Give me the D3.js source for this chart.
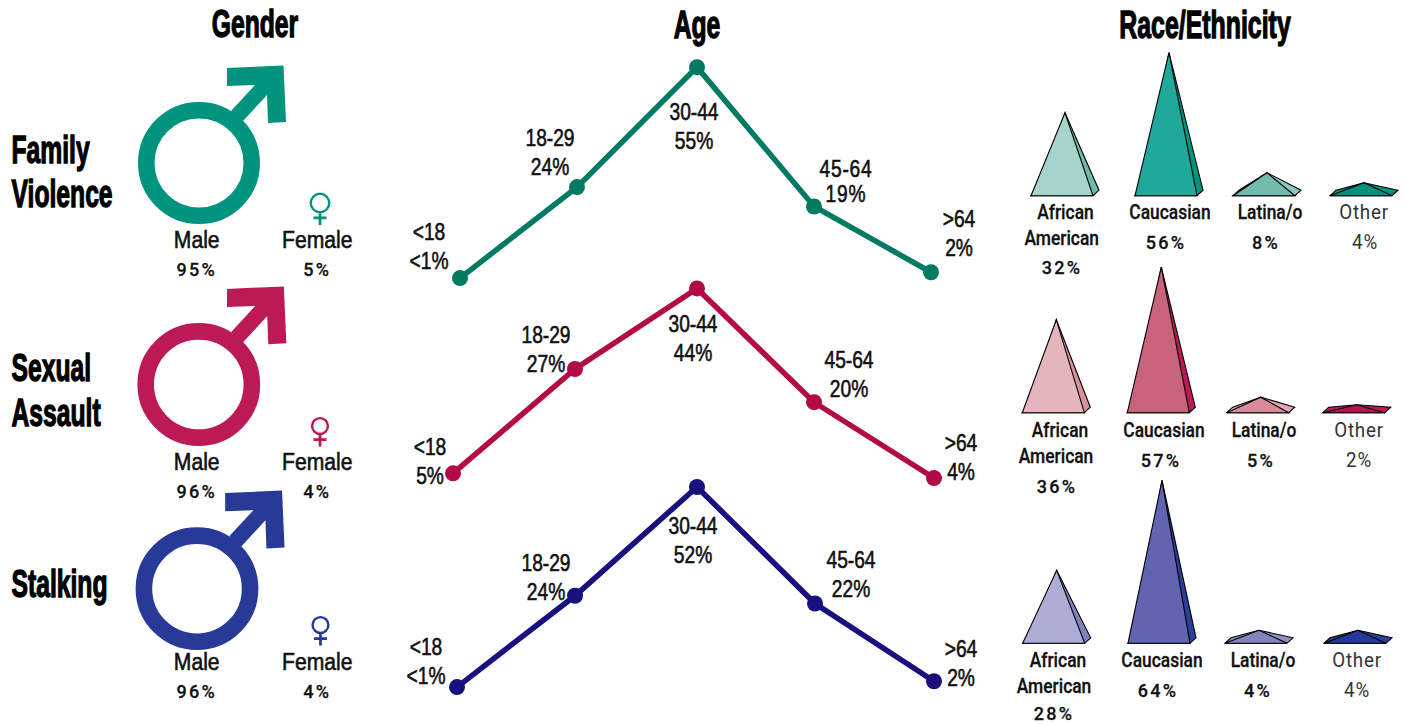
<!DOCTYPE html>
<html>
<head>
<meta charset="utf-8">
<script src="https://cdn.jsdelivr.net/npm/d3@7/dist/d3.min.js"></script>
<style>
html,body{margin:0;padding:0;background:#fff;overflow:hidden}
svg{display:block}
text{fill:#111;text-anchor:middle}
.head{font-family:"Liberation Sans",sans-serif;font-weight:700;font-size:38px;fill:#000;stroke:#000;stroke-width:1.3px}
.lab{font-family:"Liberation Sans",sans-serif;font-size:24px;stroke:#111;stroke-width:.6px}
.pct{font-family:Roboto,sans-serif;font-weight:500;font-size:19px;letter-spacing:2.4px;stroke:#111;stroke-width:.25px}
.cat{font-family:Roboto,sans-serif;font-weight:500;font-size:20px;stroke:#111;stroke-width:.3px}
.other{font-family:Roboto,sans-serif;font-weight:400;font-size:20px;fill:#333;letter-spacing:.8px}
</style>
</head>
<body>
<script>
// Crime categories, one row of panels each
const crimes = ["Family Violence", "Sexual Assault", "Stalking"];
const crimeLines = [["Family", "Violence"], ["Sexual", "Assault"], ["Stalking"]];

// Gender shares (%)
const genders = ["Male", "Female"];
const genderValues = [[95, 5], [96, 4], [96, 4]];

// Age shares (%); "<1%" is plotted at 0.5
const ageGroups = ["<18", "18-29", "30-44", "45-64", ">64"];
const ageValues = [[0.5, 24, 55, 19, 2], [5, 27, 44, 20, 4], [0.5, 24, 52, 22, 2]];
const ageText = [["<1%", "24%", "55%", "19%", "2%"], ["5%", "27%", "44%", "20%", "4%"], ["<1%", "24%", "52%", "22%", "2%"]];

// Race and ethnicity shares (%)
const races = ["African American", "Caucasian", "Latina/o", "Other"];
const raceValues = [[32, 56, 8, 4], [36, 57, 5, 2], [28, 64, 4, 4]];

// Colours per crime
const symbolColors = ["#00937d", "#bb1a56", "#283a97"];
const lineColors = ["#007a62", "#b30a45", "#17107e"];
const raceFront = [["#a6d3cc", "#20a99b", "#72b9ae", "#00917c"],
                   ["#e6b5bb", "#c8637b", "#d98b9b", "#b8134f"],
                   ["#adadd6", "#6164ae", "#8484bd", "#26399a"]];
const raceSide = [["#6fb8ac", "#00937d", "#8cc9bf", "#00937d"],
                  ["#d9919e", "#bb1a56", "#e3a5b1", "#bb1a56"],
                  ["#8080bd", "#2c3e9c", "#8f90c4", "#2c3e9c"]];

// Layout of each row
const W = 1403, H = 725;
const genderLayout = [
  {male:[199,163], female:[320,203], textX:[196.7,317.3], nameY:248.3, pctY:276},
  {male:[198.8,384.5], female:[320,426], textX:[196.7,317.3], nameY:470, pctY:497.7},
  {male:[197,588.7], female:[320.5,625], textX:[196.7,317.3], nameY:670, pctY:698.3}
];
const ageLayout = [
  {x:[460,577,697,814,931], base:280, perPct:3.87,
   label:[[429,240],[550,146],[694,119.5],[846,177,25,1],[959,227]]},
  {x:[453,575,697,814,934], base:497, perPct:4.74,
   label:[[430,455],[546,343],[693,332],[849,368],[961,451]]},
  {x:[457,575,697,815,934], base:689, perPct:3.885,
   label:[[426,655],[546,571],[693,534],[851,568],[961,657]]}
];
const raceLayout = [
  {x:[1031,1135,1233,1330], base:195.7, nameX:[[1065.5,1061.7],[1170],[1270],[1364]], pctX:[1062,1166,1266,1365], nameY:218.5, pctY:[274,248.7]},
  {x:[1022.3,1127.3,1226.7,1322.7], base:412.7, nameX:[[1060,1056],[1164],[1264],[1359]], pctX:[1057,1161,1261,1359], nameY:436.7, pctY:[492.7,466.7]},
  {x:[1022.7,1128,1225,1324], base:643.3, nameX:[[1058,1054],[1162],[1263],[1357]], pctX:[1054,1158,1258,1357], nameY:666.7, pctY:[720,696.7]}
];

const svg = d3.select("body").append("svg").attr("width", W).attr("height", H);

// Places condensed text by scaling it horizontally around its anchor
function label(parent, cls, s, x, y, sx, anchor) {
  const t = parent.append("text").attr("class", cls)
    .attr("transform", `translate(${x},${y}) scale(${sx},1)`).text(s);
  if (anchor) t.style("text-anchor", anchor);
  return t;
}

const headScale = 0.65;
label(svg, "head", "Gender", 255, 36.7, headScale);
label(svg, "head", "Age", 697, 38, headScale);
label(svg, "head", "Race/Ethnicity", 1205, 38, 0.655);
const crimeLabelY = [[162.7, 207], [380.7, 425.7], [596.7]];
crimeLines.forEach((lines, i) => {
  lines.forEach((t, j) => label(svg, "head", t, 11.5, crimeLabelY[i][j], headScale, "start"));
});

// Symbol radius grows with the share
const symbolR = d3.scalePow().exponent(0.6).domain([0, 95]).range([0, 61]);

function maleSymbol(g, c, R, color) {
  const k = R / 61, sw = 16.5 * k;
  const [cx, cy] = c;
  g.append("circle").attr("cx", cx).attr("cy", cy).attr("r", R - sw / 2)
    .attr("fill", "none").attr("stroke", color).attr("stroke-width", sw);
  // Arrow outline relative to the ring centre, in units of a 61px ring
  const arrow = [[28,-95],[84.5,-97.5],[87,-41],[69,-40],[68,-68],[44,-42],[32,-52],[56,-78],[28,-77]];
  g.append("polygon")
    .attr("points", arrow.map(p => [cx + p[0]*k, cy + p[1]*k].join(",")).join(" "))
    .attr("fill", color);
}
function femaleSymbol(g, c, R, color) {
  const [cx, cy] = c;
  g.append("circle").attr("cx", cx).attr("cy", cy).attr("r", R - 1.2)
    .attr("fill", "none").attr("stroke", color).attr("stroke-width", 2.4);
  g.append("path").attr("d", `M${cx},${cy+R}V${cy+R+11.5}M${cx-6.5},${cy+R+4.5}H${cx+6.5}`)
    .attr("fill", "none").attr("stroke", color).attr("stroke-width", 2.8);
}

crimes.forEach((crime, i) => {
  const row = svg.append("g").attr("class", "row").attr("data-crime", crime);

  // Gender panel
  const gl = genderLayout[i];
  maleSymbol(row, gl.male, symbolR(genderValues[i][0]), symbolColors[i]);
  femaleSymbol(row, gl.female, symbolR(genderValues[i][1]), symbolColors[i]);
  genders.forEach((name, j) => {
    label(row, "lab", name, gl.textX[j], gl.nameY, 0.88);
    label(row, "pct", genderValues[i][j] + "%", gl.textX[j], gl.pctY, 0.95);
  });

  // Age panel
  const al = ageLayout[i];
  const x = d3.scaleOrdinal().domain(ageGroups).range(al.x);
  const y = d3.scaleLinear().domain([0, 100]).range([al.base, al.base - al.perPct * 100]);
  const pts = ageGroups.map((a, j) => ({a, v: ageValues[i][j], t: ageText[i][j], l: al.label[j]}));
  row.append("path").datum(pts)
    .attr("d", d3.line().x(d => x(d.a)).y(d => y(d.v)))
    .attr("fill", "none").attr("stroke", lineColors[i]).attr("stroke-width", 5.5);
  row.selectAll(".pt").data(pts).join("circle").attr("class", "pt")
    .attr("cx", d => x(d.a)).attr("cy", d => y(d.v)).attr("r", 8).attr("fill", lineColors[i]);
  pts.forEach(d => {
    const gap = d.l[2] || 29, spread = d.l[3] ? d.l[3] + "px" : null;
    label(row, "lab", d.a, d.l[0], d.l[1], 0.8).style("letter-spacing", spread);
    label(row, "lab", d.t, d.l[0], d.l[1] + gap, 0.8).style("letter-spacing", spread);
  });

  // Race panel: a pyramid per group, height from its share
  const rl = raceLayout[i];
  const h = d3.scaleLinear().domain([0, 100]).range([3, 253]);
  races.forEach((r, j) => {
    const left = rl.x[j], right = left + 62, b = rl.base, v = raceValues[i][j];
    const apex = [left + 34, b - h(v)];
    const backL = [left + 6, b - 5.5], backR = [right + 6, b - 5.5];
    const g = row.append("g").attr("stroke", "#000").attr("stroke-width", 1.1);
    const poly = (pp, fill) => g.append("polygon").attr("points", pp.map(String).join(" ")).attr("fill", fill);
    poly([apex, backL, [left, b], [right, b], backR], raceSide[i][j]);
    poly([[left, b], [right, b], apex], raceFront[i][j]);

    const words = j === 0 ? r.split(" ") : [r];
    const isOther = j === 3;
    words.forEach((w, k) => {
      label(row, isOther ? "other" : "cat", w, rl.nameX[j][k], rl.nameY + k * 26, isOther ? 0.94 : 0.87);
    });
    const pctY = rl.pctY[j === 0 ? 0 : 1];
    label(row, isOther ? "other" : "pct", v + "%", rl.pctX[j], pctY, isOther ? 0.94 : 0.95);
  });
});
</script>
</body>
</html>
